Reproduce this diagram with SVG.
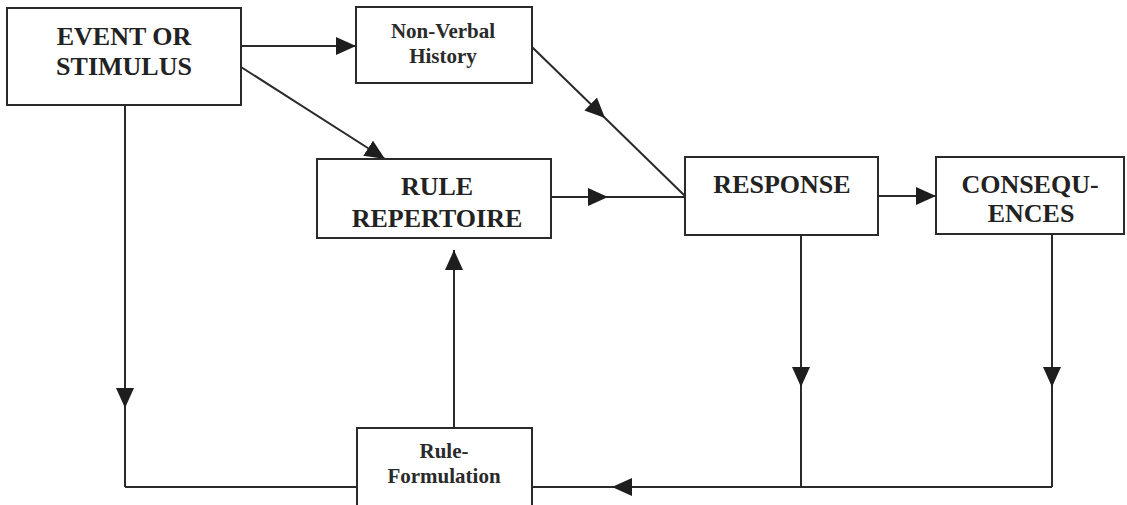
<svg xmlns="http://www.w3.org/2000/svg" width="1127" height="505" viewBox="0 0 1127 505">
<style>
.box{fill:#fff;stroke:#2a2a2a;stroke-width:2}
.ln{fill:none;stroke:#2a2a2a;stroke-width:2}
.big{font-family:"Liberation Serif","Times New Roman",serif;font-weight:bold;font-size:26px;fill:#222;text-anchor:middle}
.sm{font-family:"Liberation Serif","Times New Roman",serif;font-weight:bold;font-size:21px;fill:#2a2a2a;text-anchor:middle}
</style>
<defs>
<marker id="ah" viewBox="0 0 20 18" refX="20" refY="9" markerWidth="20" markerHeight="18" markerUnits="userSpaceOnUse" orient="auto">
<path d="M0,0 L20,9 L0,18 Z" fill="#1e1e1e"/>
</marker>
</defs>
<rect width="1127" height="505" fill="#fff"/>
<g id="connectors">
<path class="ln" d="M241,46 H356" marker-end="url(#ah)"/>
<path class="ln" d="M241,67 L385,159" marker-end="url(#ah)"/>
<path class="ln" d="M532,47 L605,118 L685,196" marker-mid="url(#ah)"/>
<path class="ln" d="M551,197 L608,197 L685,197" marker-mid="url(#ah)"/>
<path class="ln" d="M878,196 H936" marker-end="url(#ah)"/>
<path class="ln" d="M801,235 L801,387 L801,487" marker-mid="url(#ah)"/>
<path class="ln" d="M1052,234 L1052,387 L1052,487" marker-mid="url(#ah)"/>
<path class="ln" d="M1052,487 L612,487 L532,487" marker-mid="url(#ah)"/>
<path class="ln" d="M125,105 L125,408 L125,487" marker-mid="url(#ah)"/>
<path class="ln" d="M125,487 H357"/>
<path class="ln" d="M454,428 V250" marker-end="url(#ah)"/>
</g>
<g id="event">
<rect class="box" x="7" y="8" width="234" height="97"/>
<text class="big" x="124" y="45">EVENT OR</text>
<text class="big" x="124" y="75">STIMULUS</text>
</g>
<g id="nonverbal">
<rect class="box" x="356" y="7" width="176" height="76"/>
<text class="sm" x="443" y="38">Non-Verbal</text>
<text class="sm" x="443" y="63">History</text>
</g>
<g id="rulerep">
<rect class="box" x="317" y="159" width="234" height="79"/>
<text class="big" x="437" y="195">RULE</text>
<text class="big" x="437" y="227">REPERTOIRE</text>
</g>
<g id="response">
<rect class="box" x="685" y="157" width="193" height="78"/>
<text class="big" x="782" y="193">RESPONSE</text>
</g>
<g id="consequences">
<rect class="box" x="936" y="157" width="188" height="77"/>
<text class="big" x="1030" y="193">CONSEQU-</text>
<text class="big" x="1031" y="222">ENCES</text>
</g>
<g id="ruleform">
<rect class="box" x="357" y="428" width="175" height="80"/>
<text class="sm" x="444" y="458">Rule-</text>
<text class="sm" x="444" y="483">Formulation</text>
</g>
</svg>
